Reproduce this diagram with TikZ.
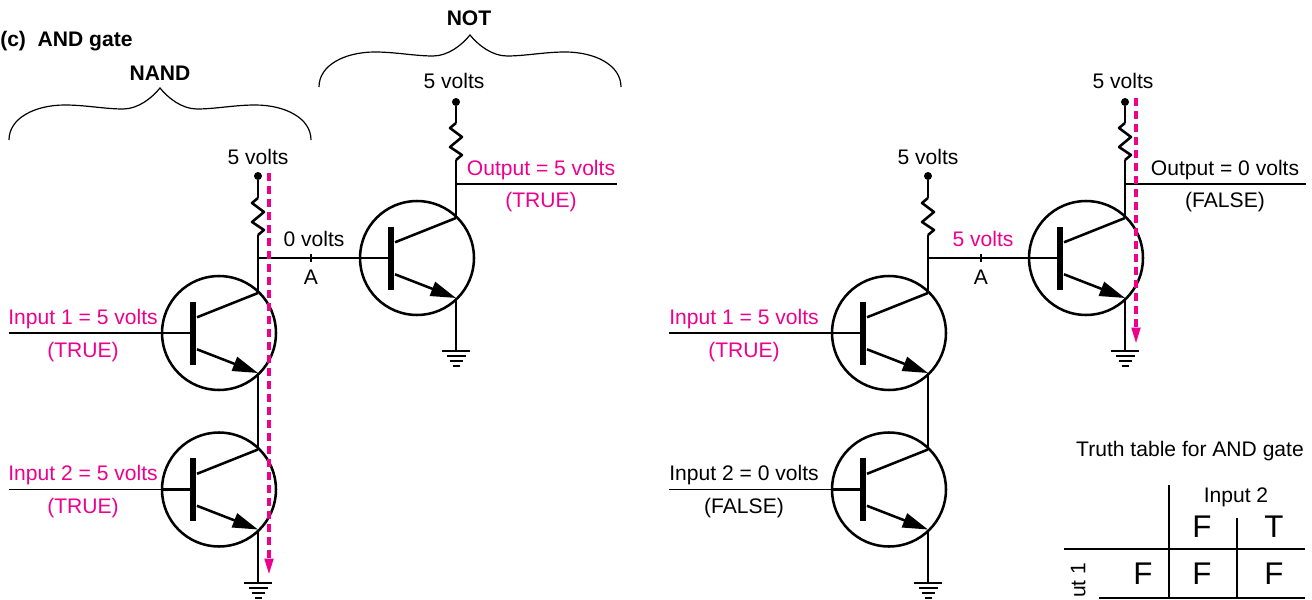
\documentclass[tikz,border=0pt]{standalone}
\usepackage{fontspec}
\setmainfont{Liberation Sans}
\usepackage{xcolor}
\usepackage{tikz}
\usetikzlibrary{
	arrows.meta % for the current and emitter arrows
	}
\definecolor{hotpink}{HTML}{EC008C}
\newcommand{\voltfont}{\fontsize{15.8}{18}\selectfont}
\newcommand{\cellfont}{\fontsize{23.5}{26}\selectfont}

\begin{document}
\begin{tikzpicture}[
                x=0.75pt,y=-0.75pt,
                wire/.style={draw=black,line width=0.9pt},
                heavy/.style={draw=black,line width=1.9pt},
                dot/.style={circle,fill=black,inner sep=0pt,minimum size=6pt},
                volts/.style={inner sep=0pt,font=\voltfont,text height=11pt,text depth=3pt,yshift=-1.65pt},
                hot/.style={volts,text=hotpink},
                head/.style={volts,font=\voltfont\bfseries},
                cell/.style={inner sep=0pt,font=\cellfont},
                current/.style={draw=hotpink,line width=3pt,dash pattern=on 6pt off 3.75pt,
                    -{Triangle[length=13pt,width=6pt,fill=hotpink]}},
                transistor/.pic={
                    \draw[heavy] (0,0) circle (57);
                    \draw[heavy] (-57,0) -- (-26,0);
                    \draw[draw=black,line width=3.8pt] (-26,-31.5) -- (-26,31.5);
                    \draw[heavy] (-22,-15.7) -- (39,-40);
                    \draw[heavy,-{Triangle[length=19pt,width=11pt]}] (-22,16.3) -- (39,40);
                    \coordinate (-b) at (-57,0);
                    \coordinate (-c) at (39,-40);
                    \coordinate (-e) at (39,40);
                },
                resistor/.pic={
                    \draw[heavy,line join=round] (0,0) -- (-6,5) -- (6,14) -- (-6,24) -- (6,32) -- (0,37);
                    \coordinate (-in) at (0,0);
                    \coordinate (-out) at (0,37);
                },
                ground/.pic={
                    \draw[heavy] (-14,0) -- (14,0);
                    \draw[heavy] (-9.5,5) -- (9.5,5);
                    \draw[heavy] (-6.5,10) -- (6.5,10);
                    \draw[heavy] (-3.5,15) -- (3.5,15);
                    \coordinate (-in) at (0,0);
                },
                brace/.pic={
                    \draw[wire] (-151,52) .. controls (-151,30) and (-125,17) .. (-95,17)
                        .. controls (-75,17) and (-55,21) .. (-37,21)
                        .. controls (-22,21) and (-8,10) .. (0,0)
                        .. controls (8,10) and (22,21) .. (37,21)
                        .. controls (55,21) and (75,17) .. (95,17)
                        .. controls (125,17) and (151,30) .. (151,52);
                },
            ]
                \useasboundingbox (0,0) rectangle (1312,599);

                %% Left circuit, all inputs true
                \node[head,anchor=west] (title) at (0,39) {(c)\ \ AND gate};
                \node[head] (nandL) at (160,73) {NAND};
                \node[head] (notL) at (469,18) {NOT};
                \pic at (160,88) {brace};
                \pic at (470,35) {brace};

                % NAND part
                \node[dot] (vccA) at (258,176) {};
                \node[volts] (vccAtext) at (258,157) {5 volts};
                \pic (rA) at (258,198) {resistor};
                \coordinate (nodeA) at (258,258);
                \pic (q1) at (219,333) {transistor};
                \pic (q2) at (219,489.5) {transistor};
                \pic (gndA) at (258,583) {ground};
                \draw[wire] (vccA) -- (rA-in);
                \draw[wire] (rA-out) -- (nodeA) -- (q1-c);
                \draw[wire] (q1-e) -- (q2-c);
                \draw[wire] (q2-e) -- (gndA-in);

                % Inputs
                \coordinate (in1) at (9,333);
                \coordinate (in2) at (9,489.5);
                \draw[wire] (in1) -- (q1-b);
                \draw[wire] (in2) -- (q2-b);
                \node[hot] (in1text) at (83,317) {Input 1 = 5 volts};
                \node[hot] (in1val) at (83,350) {(TRUE)};
                \node[hot] (in2text) at (83,473) {Input 2 = 5 volts};
                \node[hot] (in2val) at (83,506) {(TRUE)};

                % NOT part
                \node[dot] (vccB) at (456,102) {};
                \node[volts] (vccBtext) at (454,81) {5 volts};
                \pic (rB) at (456,123) {resistor};
                \coordinate (outB) at (456,184);
                \coordinate (outBend) at (617,184);
                \pic (q3) at (417,258) {transistor};
                \pic (gndB) at (456,351) {ground};
                \draw[wire] (vccB) -- (rB-in);
                \draw[wire] (rB-out) -- (outB) -- (q3-c);
                \draw[wire] (outB) -- (outBend);
                \draw[wire] (q3-e) -- (gndB-in);
                \draw[wire] (nodeA) -- (q3-b);
                \node[hot] (outBtext) at (541,168) {Output = 5 volts};
                \node[hot] (outBval) at (541,200) {(TRUE)};

                % Point A
                \coordinate (tickA) at (311,258);
                \draw[wire,line width=1.5pt] ([yshift=3pt]tickA) -- ([yshift=-3pt]tickA);
                \node[volts] (tickAtext) at (311,277) {A};
                \node[volts] (valA) at (314,239) {0 volts};

                % Current path
                \coordinate (curAtop) at (269,173);
                \coordinate (curAend) at (269,576);
                \draw[current] (curAtop) -- (curAend);

                %% Right circuit, input 2 false
                % NAND part
                \node[dot] (vccC) at (928,176) {};
                \node[volts] (vccCtext) at (928,157) {5 volts};
                \pic (rC) at (928,198) {resistor};
                \coordinate (nodeC) at (928,258);
                \pic (q4) at (889,333) {transistor};
                \pic (q5) at (889,489.5) {transistor};
                \pic (gndC) at (928,583) {ground};
                \draw[wire] (vccC) -- (rC-in);
                \draw[wire] (rC-out) -- (nodeC) -- (q4-c);
                \draw[wire] (q4-e) -- (q5-c);
                \draw[wire] (q5-e) -- (gndC-in);

                % Inputs
                \coordinate (in3) at (669,333);
                \coordinate (in4) at (669,489.5);
                \draw[wire] (in3) -- (q4-b);
                \draw[wire] (in4) -- (q5-b);
                \node[hot] (in3text) at (744,317) {Input 1 = 5 volts};
                \node[hot] (in3val) at (744,350) {(TRUE)};
                \node[volts] (in4text) at (744,473) {Input 2 = 0 volts};
                \node[volts] (in4val) at (744,506) {(FALSE)};

                % NOT part
                \node[dot] (vccD) at (1125,102) {};
                \node[volts] (vccDtext) at (1123,81) {5 volts};
                \pic (rD) at (1125,123) {resistor};
                \coordinate (outD) at (1125,184);
                \coordinate (outDend) at (1306,184);
                \pic (q6) at (1086,258) {transistor};
                \pic (gndD) at (1125,351) {ground};
                \draw[wire] (vccD) -- (rD-in);
                \draw[wire] (rD-out) -- (outD) -- (q6-c);
                \draw[wire] (outD) -- (outDend);
                \draw[wire] (q6-e) -- (gndD-in);
                \draw[wire] (nodeC) -- (q6-b);
                \node[volts] (outDtext) at (1225,168) {Output = 0 volts};
                \node[volts] (outDval) at (1225,200) {(FALSE)};

                % Point A
                \coordinate (tickC) at (981,258);
                \draw[wire,line width=1.5pt] ([yshift=3pt]tickC) -- ([yshift=-3pt]tickC);
                \node[volts] (tickCtext) at (981,277) {A};
                \node[hot] (valC) at (983,239) {5 volts};

                % Current path
                \coordinate (curDtop) at (1136,98);
                \coordinate (curDend) at (1136,345);
                \draw[current] (curDtop) -- (curDend);

                %% Truth table, cut off by the page
                \node[volts] (tabletitle) at (1190,449) {Truth table for AND gate};
                \node[volts] (tableinput) at (1236,495) {Input 2};
                \node[cell] (headF) at (1202,527) {F};
                \node[cell] (headT) at (1274,527) {T};
                \node[cell] (rowF) at (1143,574) {F};
                \node[cell] (cellFF) at (1202,574) {F};
                \node[cell] (cellFT) at (1274,574) {F};
                \node[volts,rotate=90] (rowinput) at (1080,578) {ut 1};
                \draw[heavy] (1169,485) -- (1169,599);
                \draw[heavy] (1064,549) -- (1305,549);
                \draw[wire] (1237,518) -- (1237,599);
                \draw[wire] (1099,598) -- (1305,598);
\end{tikzpicture}
\end{document}
